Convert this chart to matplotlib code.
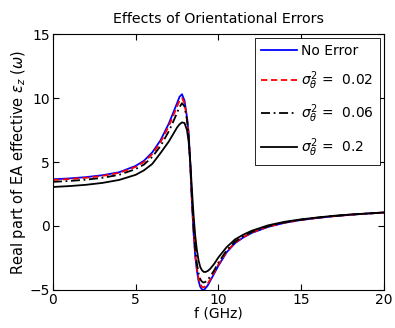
import matplotlib
matplotlib.use("Agg")
import matplotlib.pyplot as plt

freq = [0, 1, 2, 3, 4, 5, 5.5, 6, 6.5, 7, 7.25, 7.5, 7.65, 7.8, 7.95, 8.1, 8.2, 8.3,
        8.4, 8.5, 8.6, 8.7, 8.8, 8.9, 9.0, 9.1, 9.2, 9.35, 9.5, 9.75, 10, 10.5, 11,
        11.5, 12, 13, 14, 15, 16, 17, 18, 19, 20]

no_error = [3.65, 3.72, 3.82, 3.97, 4.2, 4.7, 5.1, 5.75, 6.7, 8.0, 8.8, 9.6, 10.1, 10.3,
            9.8, 8.5, 7.3, 4.8, 1.8, -0.6, -2.4, -3.5, -4.3, -4.75, -4.95, -5.0, -4.9,
            -4.65, -4.3, -3.7, -3.1, -2.05, -1.35, -0.9, -0.55, -0.07, 0.25, 0.47, 0.63,
            0.77, 0.88, 0.97, 1.05]

var_002 = [3.6, 3.67, 3.77, 3.92, 4.15, 4.62, 5.0, 5.62, 6.55, 7.8, 8.55, 9.35, 9.8, 10.0,
           9.6, 8.4, 7.2, 4.8, 1.9, -0.4, -2.2, -3.3, -4.1, -4.55, -4.75, -4.8, -4.72,
           -4.5, -4.2, -3.6, -3.0, -2.0, -1.3, -0.87, -0.52, -0.05, 0.26, 0.48, 0.64,
           0.77, 0.88, 0.97, 1.05]

var_006 = [3.45, 3.52, 3.62, 3.77, 4.0, 4.45, 4.8, 5.4, 6.25, 7.4, 8.1, 8.85, 9.3, 9.6,
           9.35, 8.3, 7.0, 4.8, 2.1, -0.1, -1.8, -2.95, -3.7, -4.15, -4.35, -4.42, -4.38,
           -4.2, -3.95, -3.45, -2.85, -1.9, -1.22, -0.8, -0.47, -0.02, 0.28, 0.49, 0.65,
           0.78, 0.89, 0.97, 1.05]

var_02 = [3.05, 3.12, 3.22, 3.37, 3.6, 4.0, 4.35, 4.85, 5.7, 6.6, 7.15, 7.7, 7.95, 8.1,
          8.05, 7.5, 6.6, 5.0, 2.8, 0.8, -0.8, -1.9, -2.7, -3.2, -3.45, -3.58, -3.6,
          -3.52, -3.35, -2.95, -2.45, -1.65, -1.05, -0.68, -0.38, 0.05, 0.33, 0.52, 0.67,
          0.8, 0.9, 0.98, 1.06]

labels = ["No Error",
          r"$\sigma_\theta^2$ =  0.02",
          r"$\sigma_\theta^2$ =  0.06",
          r"$\sigma_\theta^2$ =  0.2"]

plt.rcParams['font.family'] = ['DejaVu Sans']
plt.rcParams['font.size'] = 10
plt.rcParams['mathtext.fontset'] = 'dejavusans'

fig = plt.figure(figsize=(3.95, 3.28), dpi=100)
ax = fig.add_axes([0.134, 0.116, 0.838, 0.780])

ax.plot(freq, no_error, color='#0000ff', lw=1.3, label=labels[0])
ax.plot(freq, var_002, color='#ff0000', lw=1.3, ls=(0, (3.5, 2)), label=labels[1])
ax.plot(freq, var_006, color='black', lw=1.3, ls=(0, (5, 2, 1, 2)), label=labels[2])
ax.plot(freq, var_02, color='black', lw=1.3, label=labels[3])

ax.set_xlim(0, 20)
ax.set_ylim(-5, 15)
ax.set_xticks([0, 5, 10, 15, 20])
ax.set_yticks([-5, 0, 5, 10, 15])
ax.tick_params(direction='in', top=True, right=True, length=4, width=0.8, pad=2,
               labelsize=10)
for s in ax.spines.values():
    s.set_linewidth(0.8)

ax.set_title("Effects of Orientational Errors", fontsize=10.3, pad=8)
ax.set_xlabel("f (GHz)", fontsize=10, labelpad=0)
ax.set_ylabel(r"Real part of EA effective $\varepsilon_z$ ($\omega$)", fontsize=10.5,
              labelpad=1)

leg = ax.legend(loc='upper right', fontsize=10, frameon=True, fancybox=False,
                handlelength=2.6, handletextpad=0.3, borderaxespad=0.3,
                labelspacing=0.8, borderpad=0.4)
leg.get_frame().set_edgecolor('black')
leg.get_frame().set_linewidth(0.6)
leg.get_frame().set_alpha(1)

fig.savefig("out.png", dpi=100)
